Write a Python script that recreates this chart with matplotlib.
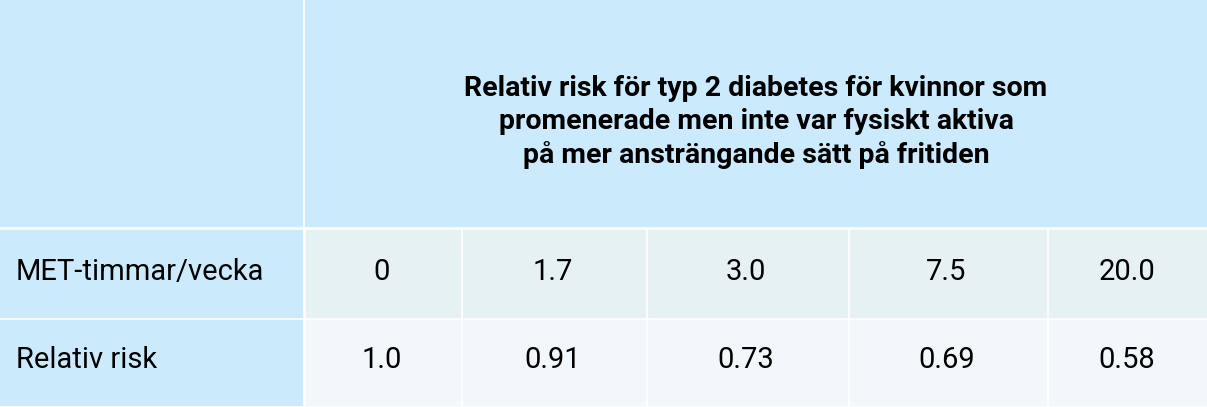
import matplotlib.pyplot as plt
from matplotlib.patches import Rectangle

title = "Relativ risk för typ 2 diabetes för kvinnor som\npromenerade men inte var fysiskt aktiva\npå mer ansträngande sätt på fritiden"
row_labels = ["MET-timmar/vecka", "Relativ risk"]
met_hours = ["0", "1.7", "3.0", "7.5", "20.0"]
rel_risk = ["1.0", "0.91", "0.73", "0.69", "0.58"]

plt.rcParams["font.family"] = ["Liberation Sans Narrow", "Roboto", "DejaVu Sans"]
W, H = 1207, 407
fig = plt.figure(figsize=(W / 100, H / 100), dpi=100)
ax = fig.add_axes([0, 0, 1, 1])
ax.set_xlim(0, W)
ax.set_ylim(H, 0)
ax.axis("off")

xs = [0, 303, 460, 645, 847, 1046, W]
rows = [(0, 226), (230, 317), (320, 405)]
blue = "#cbebfc"
g = 3

# header
ax.add_patch(Rectangle((0, 0), 302, 226, color=blue))
ax.add_patch(Rectangle((305, 0), W - 305, 226, color=blue))
ax.text((305 + W) / 2, 122, title, ha="center", va="center", fontsize=20.5,
        fontweight="bold", linespacing=1.3)

fills = ["#e6f1f4", "#f1f7fa"]
for r, (vals, fill) in enumerate(zip([met_hours, rel_risk], fills)):
    y0, y1 = rows[r + 1]
    ax.add_patch(Rectangle((0, y0), 302, y1 - y0, color=blue))
    ax.text(16, (y0 + y1) / 2 - 2, row_labels[r], ha="left", va="center", fontsize=21)
    for i, v in enumerate(vals):
        x0, x1 = xs[i + 1], xs[i + 2]
        ax.add_patch(Rectangle((x0 + g, y0), x1 - x0 - g, y1 - y0, color=fill))
        ax.text((x0 + x1) / 2, (y0 + y1) / 2 - 2, v, ha="center", va="center", fontsize=21)

fig.savefig("out.png", dpi=100, facecolor="white")
